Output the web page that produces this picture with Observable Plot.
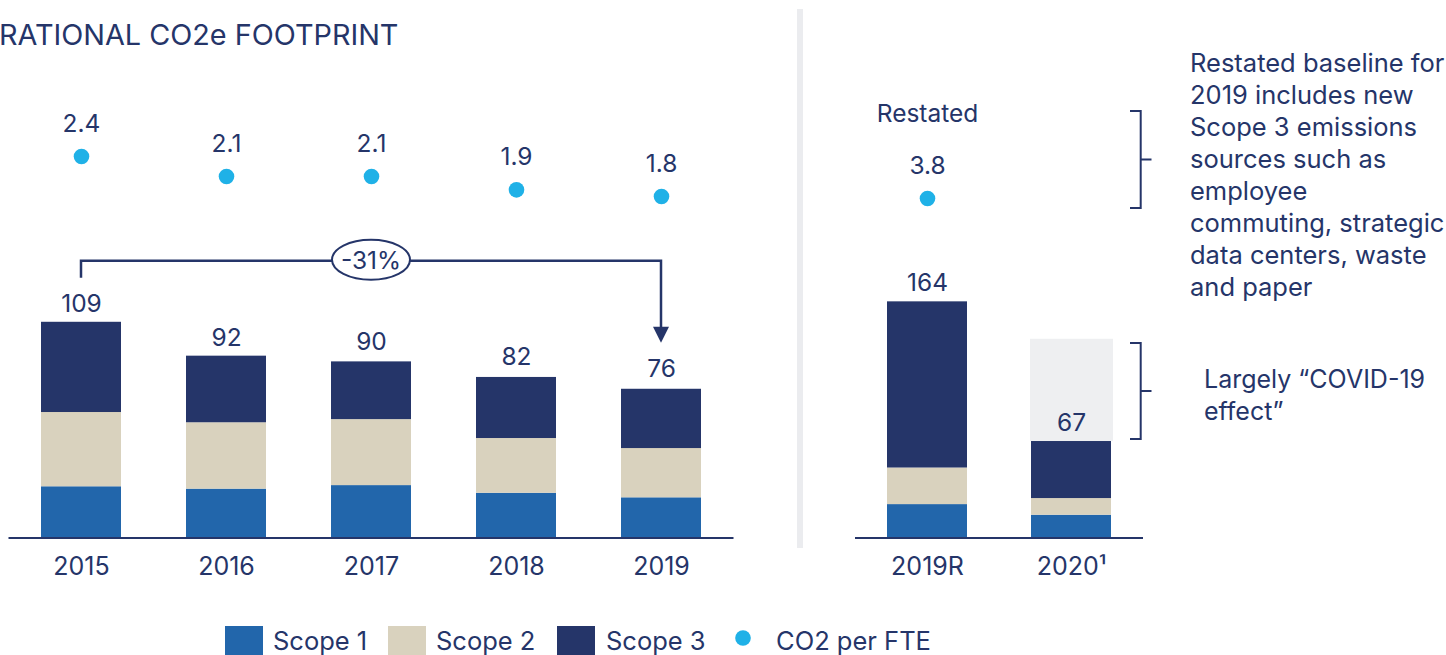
<!DOCTYPE html>
<html><head><meta charset="utf-8">
<script src="https://cdn.jsdelivr.net/npm/d3@7"></script>
<script src="https://cdn.jsdelivr.net/npm/@observablehq/plot@0.6"></script>
<style>
html,body{margin:0;padding:0;background:#fff;overflow:hidden}
body{width:1446px;height:655px;position:relative;font-family:Inter,"Liberation Sans",sans-serif;color:#253569}
.abs{position:absolute;left:0;top:0}
</style></head><body>
<div id="leftBars" class="abs"></div>
<div id="leftDots" class="abs"></div>
<div id="rightBars" class="abs" style="left:820px"></div>
<div id="rightDots" class="abs" style="left:820px"></div>
<div id="overlay" class="abs"></div>
<script>
// ---------- data ----------
const years = ["2015", "2016", "2017", "2018", "2019"];
const scope1 = [26.0, 24.8, 26.6, 22.7, 20.4];
const scope2 = [37.7, 33.7, 33.5, 27.8, 25.0];
const scope3 = [45.8, 33.8, 29.3, 31.0, 30.1];
const totals = [109, 92, 90, 82, 76];
const co2PerFte = [2.4, 2.1, 2.1, 1.9, 1.8];
const changeLabel = "-31%";

const restatedCats = ["2019R", "2020¹"];
const rScope1 = [23.2, 15.8];
const rScope2 = [25.4, 11.6];
const rScope3 = [115.4, 39.6];
const rTotals = [164, 67];
const rCo2PerFte = [3.8];
const rCo2Label = ["Restated"];
const covidTop = [138];   // pre-COVID level shown as grey box on 2020

const scopes = ["Scope 1", "Scope 2", "Scope 3"];
const scopeColors = ["#2266ab", "#d9d2be", "#253569"];
const dotColor = "#1fb1e7";
const navy = "#253569";
const font = "Inter, 'Liberation Sans', sans-serif";

const noteLines = ["Restated baseline for", "2019 includes new", "Scope 3 emissions", "sources such as",
  "employee", "commuting, strategic", "data centers, waste", "and paper"];
const covidLines = ["Largely “COVID-19", "effect”"];
const titleText = "RATIONAL CO2e FOOTPRINT";

// ---------- build long tables ----------
function longRows(cats, s1, s2, s3) {
  const rows = [];
  cats.forEach((c, i) => {
    rows.push({cat: c, scope: scopes[0], value: s1[i]});
    rows.push({cat: c, scope: scopes[1], value: s2[i]});
    rows.push({cat: c, scope: scopes[2], value: s3[i]});
  });
  return rows;
}
const leftRows = longRows(years, scope1, scope2, scope3);
const leftTotals = years.map((c, i) => ({cat: c, total: totals[i]}));
const leftDots = years.map((c, i) => ({cat: c, v: co2PerFte[i]}));
const rightRows = longRows(restatedCats, rScope1, rScope2, rScope3);
const rightTotals = restatedCats.map((c, i) => ({cat: c, total: rTotals[i]}));
const rightDots = rCo2PerFte.map((v, i) => ({cat: restatedCats[i], v, label: rCo2Label[i]}));
const covidBox = [{cat: restatedCats[1], y1: rTotals[1], y2: covidTop[0]}];

const style = {fontFamily: font, fontSize: "24.5px", color: navy, background: "transparent", overflow: "visible"};
const colorScale = {domain: scopes, range: scopeColors};

// ---------- left panel ----------
const leftX = {domain: years, paddingInner: 0.4483, paddingOuter: 0.2241};
const leftPlot = Plot.plot({
  width: 760, height: 600, marginLeft: 8.5, marginRight: 26.5, marginTop: 301.1, marginBottom: 62.5,
  style, x: {...leftX, axis: null}, y: {domain: [0, 120], axis: null}, color: colorScale,
  marks: [
    Plot.barY(leftRows, {x: "cat", y: "value", fill: "scope"}),
    Plot.text(leftTotals, {x: "cat", y: "total", text: d => String(d.total), lineAnchor: "bottom", dy: -11, fill: navy}),
    Plot.ruleY([0], {stroke: navy, strokeWidth: 2}),
    Plot.axisX({tickSize: 0, tickPadding: 19, fill: navy, label: null, fontSize: 25})
  ]
});
document.getElementById("leftBars").appendChild(leftPlot);

const leftDotPlot = Plot.plot({
  width: 760, height: 600, marginLeft: 8.5, marginRight: 26.5, marginTop: 0, marginBottom: 0,
  style, x: {...leftX, axis: null}, y: {domain: [1.2, 3.0], range: [236, 116], axis: null},
  marks: [
    Plot.dot(leftDots, {x: "cat", y: "v", r: 7.8, fill: dotColor}),
    Plot.text(leftDots, {x: "cat", y: "v", text: d => d.v.toFixed(1), lineAnchor: "bottom", dy: -25, fill: navy})
  ]
});
document.getElementById("leftDots").appendChild(leftDotPlot);

// ---------- right panel ----------
const rightX = {domain: restatedCats, paddingInner: 0.4444, paddingOuter: 0.2222};
const rightPlot = Plot.plot({
  width: 340, height: 600, marginLeft: 35, marginRight: 17, marginTop: 278.3, marginBottom: 62.5,
  style, x: {...rightX, axis: null}, y: {domain: [0, 180], axis: null}, color: colorScale,
  marks: [
    Plot.barY(covidBox, {x: "cat", y1: "y1", y2: "y2", fill: "#eeeff1", insetLeft: -1, insetRight: -2}),
    Plot.barY(rightRows, {x: "cat", y: "value", fill: "scope"}),
    Plot.text(rightTotals, {x: "cat", y: "total", text: d => String(d.total), lineAnchor: "bottom", dy: -11, fill: navy}),
    Plot.ruleY([0], {stroke: navy, strokeWidth: 2}),
    Plot.axisX({tickSize: 0, tickPadding: 19, fill: navy, label: null, fontSize: 25})
  ]
});
document.getElementById("rightBars").appendChild(rightPlot);

const rightDotPlot = Plot.plot({
  width: 340, height: 600, marginLeft: 35, marginRight: 17, marginTop: 0, marginBottom: 0,
  style, x: {...rightX, axis: null}, y: {domain: [3.2, 4.4], range: [238, 158], axis: null},
  marks: [
    Plot.dot(rightDots, {x: "cat", y: "v", r: 7.8, fill: dotColor}),
    Plot.text(rightDots, {x: "cat", y: "v", text: d => d.v.toFixed(1), lineAnchor: "bottom", dy: -25, fill: navy}),
    Plot.text(rightDots, {x: "cat", y: "v", text: "label", lineAnchor: "bottom", dy: -77, fill: navy})
  ]
});
document.getElementById("rightDots").appendChild(rightDotPlot);

// ---------- overlay: title, divider, change bracket, notes, legend ----------
const svg = d3.select("#overlay").append("svg")
  .attr("width", 1446).attr("height", 655)
  .style("font-family", font).style("overflow", "hidden");

svg.append("text").attr("x", -1).attr("y", 45).attr("font-size", 28.8).attr("fill", navy).text(titleText);
svg.append("rect").attr("x", 797).attr("y", 9).attr("width", 6).attr("height", 539).attr("fill", "#ebecef");

// change bracket built from the left plot's scales
const xs = leftPlot.scale("x"), ys = leftPlot.scale("y");
const bw = xs.bandwidth;
const xa = xs.apply(years[0]) + bw / 2, xb = xs.apply(years[4]) + bw / 2;
const stub = ys.apply(totals[0]) - 45, level = stub - 17, tip = ys.apply(totals[4]) - 45;
const g = svg.append("g").attr("stroke", navy).attr("stroke-width", 2.5).attr("fill", "none");
g.append("path").attr("d", `M${xa},${stub}V${level}H${xb}V${tip - 15}`);
svg.append("path").attr("d", `M${xb - 8},${tip - 16}L${xb + 8},${tip - 16}L${xb},${tip}Z`).attr("fill", navy);
const cx = (xa + xb) / 2;
svg.append("ellipse").attr("cx", cx).attr("cy", level - 1).attr("rx", 39).attr("ry", 20)
  .attr("fill", "#fff").attr("stroke", navy).attr("stroke-width", 2);
svg.append("text").attr("x", cx).attr("y", level + 8).attr("text-anchor", "middle")
  .attr("font-size", 24.5).attr("fill", navy).text(changeLabel);

// notes
const note = svg.append("text").attr("font-size", 25.5).attr("fill", navy);
noteLines.forEach((t, i) => note.append("tspan").attr("x", 1190).attr("y", 72 + 32 * i).text(t));
const cov = svg.append("text").attr("font-size", 25).attr("fill", navy);
covidLines.forEach((t, i) => cov.append("tspan").attr("x", 1204).attr("y", 388 + 32 * i).text(t));
const br = svg.append("g").attr("stroke", navy).attr("stroke-width", 2).attr("fill", "none");
br.append("path").attr("d", "M1130,111H1140.7V208H1130M1140.7,159.5H1151.5");
br.append("path").attr("d", "M1130,343H1140.7V439H1130M1140.7,391H1151.5");

// legend
const legend = [
  {label: scopes[0], color: scopeColors[0], x: 225, tx: 273},
  {label: scopes[1], color: scopeColors[1], x: 388, tx: 436},
  {label: scopes[2], color: scopeColors[2], x: 557, tx: 606},
  {label: "CO2 per FTE", color: dotColor, x: 735, tx: 776, dot: true}
];
legend.forEach(d => {
  if (d.dot) svg.append("circle").attr("cx", d.x + 8).attr("cy", 638).attr("r", 7.8).attr("fill", d.color);
  else svg.append("rect").attr("x", d.x).attr("y", 626).attr("width", 38).attr("height", 30).attr("fill", d.color);
  svg.append("text").attr("x", d.tx).attr("y", 650).attr("font-size", 25.5).attr("fill", navy).text(d.label);
});
</script>
</body></html>
